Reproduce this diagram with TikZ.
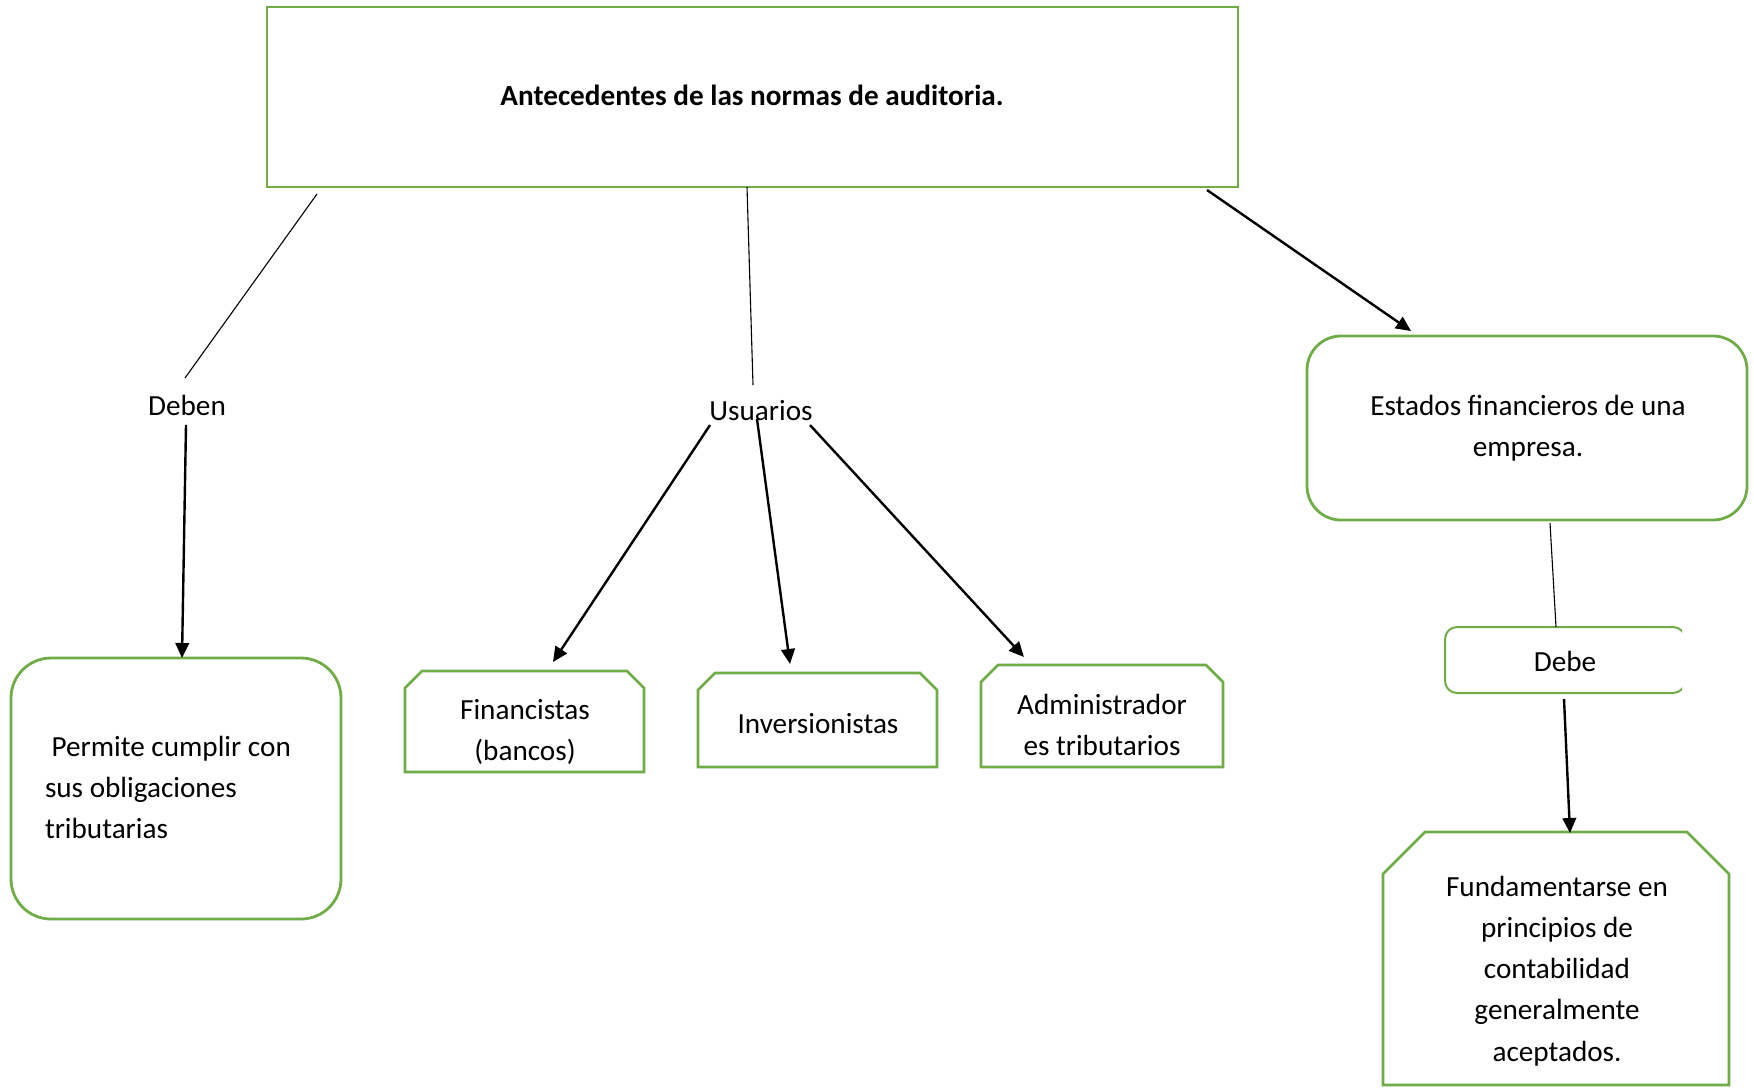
\documentclass[tikz,border=0pt]{standalone}
\usepackage{fontspec}
\setmainfont{Carlito}
\usetikzlibrary{arrows.meta,calc}
\definecolor{gr}{HTML}{70AD47}
\newcommand\tp{\rule{0pt}{12pt}}
\newcommand\chbox[2]{\draw[draw=gr,line width=1.3pt] (#1.south west) -- ($(#1.north west)+(0,#2)$) -- ($(#1.north west)+(#2,0)$) -- ($(#1.north east)+(-#2,0)$) -- ($(#1.north east)+(0,#2)$) -- (#1.south east) -- cycle;}
\begin{document}
\begin{tikzpicture}[x=0.5pt,y=-0.5pt,
  box/.style={draw=gr,line width=1.4pt,inner sep=0,outer sep=0},
  plainbox/.style={draw=none,inner sep=0,outer sep=0},
  txt/.style={inner sep=0,outer sep=0,font=\fontsize{14.6pt}{20.65pt}\selectfont},
  thinline/.style={line width=0.55pt},
  arr/.style={line width=1.2pt,-{Triangle[length=7.5pt,width=6.8pt]}}]
\useasboundingbox (0,0) rectangle (1754,1087);
\fill[white] (0,0) rectangle (1754,1087);

% boxes
\node[box,minimum width=485.5pt,minimum height=90pt] (top) at (752.5,97) {};
\node[box,rounded corners=20pt,minimum width=165pt,minimum height=130.5pt] (perm) at (176,788.5) {};
\node[plainbox,minimum width=119.5pt,minimum height=50.5pt] (fin) at (524.5,721.5) {};
\node[plainbox,minimum width=119.5pt,minimum height=47pt] (inv) at (817.5,720) {};
\node[plainbox,minimum width=121pt,minimum height=51pt] (adm) at (1102,716) {};
\node[box,rounded corners=17pt,minimum width=220pt,minimum height=92pt] (est) at (1527,428) {};
\begin{scope}
  \clip (1400,600) rectangle (1682,720);
  \node[box,line width=1pt,rounded corners=6pt,minimum width=120pt,minimum height=33pt] (debe) at (1565,660) {};
\end{scope}
\node[plainbox,minimum width=173pt,minimum height=126.5pt] (fund) at (1556,958.5) {};
\chbox{fin}{17}
\chbox{inv}{17}
\chbox{adm}{17}
\chbox{fund}{42}

% texts
\node[txt,anchor=base] (title) at (752,105) {\bfseries Antecedentes de las normas de auditoria.};
\node[txt,anchor=base] (deben) at (187,415) {Deben};
\node[txt,anchor=base] (usu) at (761,420) {Usuarios};
\node[txt,anchor=north west,align=left] (permt) at (45,732) {\tp\ Permite cumplir con\\sus obligaciones\\tributarias};
\node[txt,anchor=north,align=center] (fint) at (525,695) {\tp Financistas\\(bancos)};
\node[txt,anchor=base] (invt) at (818,733) {Inversionistas};
\node[txt,anchor=north,align=center] (admt) at (1102,690) {\tp Administrador\\es tributarios};
\node[txt,anchor=north,align=center] (estt) at (1528,391) {\tp Estados financieros de una\\empresa.};
\node[txt,anchor=base] (debet) at (1565,671) {Debe};
\node[txt,anchor=north,align=center] (fundt) at (1557,872) {\tp Fundamentarse en\\principios de\\contabilidad\\generalmente\\aceptados.};

% connectors
\draw[thinline] ($(top.south west)+(50,7)$) -- ($(deben)+(-2,-27)$);
\draw[arr] ($(deben)+(-1,20)$) -- ($(perm.north)+(6,0)$);
\draw[thinline] ($(top.south)+(-5.5,0)$) -- ($(usu)+(-8,-25)$);
\draw[arr] ($(usu)+(-51,15)$) -- ($(fin.north)+(28.5,-9)$);
\draw[arr] ($(usu)+(-4,9)$) -- ($(inv.north)+(-27.5,-9)$);
\draw[arr] ($(usu)+(49,15)$) -- ($(adm.north)+(-78,-8)$);
\draw[arr] ($(top.south east)+(-31,3)$) -- ($(est.north west)+(104,-5)$);
\draw[thinline] ($(est.south)+(23,3)$) -- ($(debe.north)+(-9,0)$);
\draw[arr] ($(debe.south)+(-1,6)$) -- ($(fund.north)+(14,1)$);
\end{tikzpicture}
\end{document}
